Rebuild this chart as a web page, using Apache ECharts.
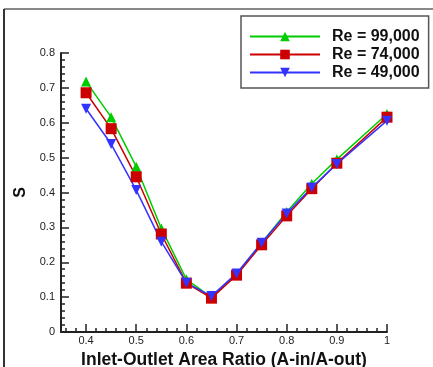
<!DOCTYPE html>
<html>
<head>
<meta charset="utf-8">
<script src="https://cdn.jsdelivr.net/npm/echarts@6/dist/echarts.min.js"></script>
<style>
  html, body { margin: 0; padding: 0; background: #fff; }
  #chart { width: 433px; height: 367px; }
</style>
</head>
<body>
<div id="chart"></div>
<script>
// area ratio (no point at 0.95)
const ratio = [0.4, 0.45, 0.5, 0.55, 0.6, 0.65, 0.7, 0.75, 0.8, 0.85, 0.9, 1.0];
// S values per Reynolds number
const re99 = [0.718, 0.616, 0.474, 0.297, 0.151, 0.099, 0.165, 0.255, 0.344, 0.425, 0.495, 0.625];
const re74 = [0.686, 0.583, 0.445, 0.281, 0.140, 0.097, 0.163, 0.250, 0.333, 0.411, 0.484, 0.616];
const re49 = [0.640, 0.539, 0.407, 0.259, 0.141, 0.103, 0.168, 0.256, 0.340, 0.414, 0.482, 0.606];
const names = ['Re = 99,000', 'Re = 74,000', 'Re = 49,000'];

function pairs(ys) {
  return ratio.map(function (x, i) { return [x, ys[i]]; });
}

var font = 'Arial, "Liberation Sans", sans-serif';
var axisCol = '#222';

var myChart = echarts.init(document.getElementById('chart'), null, {renderer: 'canvas'});

function mkSeries(name, data, color, symbol, size) {
  return {
    name: name,
    type: 'line',
    data: pairs(data),
    symbol: symbol,
    symbolSize: size,
    showSymbol: true,
    lineStyle: {color: color, width: 1.5},
    itemStyle: {color: color},
    emphasis: {disabled: true},
    animation: false
  };
}

var option = {
  backgroundColor: '#fff',
  animation: false,
  grid: {left: 61, right: 46, top: 53, bottom: 35, containLabel: false, outerBoundsMode: 'none'},
  xAxis: {
    type: 'value',
    min: 0.35,
    max: 1.0,
    splitNumber: 5,
    name: 'Inlet-Outlet Area Ratio (A-in/A-out)',
    nameLocation: 'middle',
    nameGap: 19,
    nameTextStyle: {fontFamily: font, fontSize: 17.5, fontWeight: 'bold', color: '#111'},
    axisLine: {show: true, onZero: false, lineStyle: {color: axisCol, width: 2}},
    axisTick: {show: true, inside: true, length: 8, lineStyle: {color: axisCol, width: 1.5}},
    minorTick: {show: true, splitNumber: 5, length: 4, lineStyle: {color: axisCol, width: 1.5}},
    splitLine: {show: false},
    axisLabel: {
      fontFamily: font, fontSize: 11, color: '#222', margin: 3,
      formatter: function (v) {
        if (Math.abs(v - 0.35) < 1e-6) return '';
        return String(Math.round(v * 100) / 100);
      }
    }
  },
  yAxis: {
    type: 'value',
    min: 0,
    max: 0.8,
    interval: 0.1,
    name: 'S',
    nameLocation: 'middle',
    nameGap: 31,
    nameRotate: 90,
    nameTextStyle: {fontFamily: font, fontSize: 16, fontWeight: 'bold', color: '#111'},
    axisLine: {show: true, lineStyle: {color: axisCol, width: 2}},
    axisTick: {show: true, inside: true, length: 8, lineStyle: {color: axisCol, width: 1.5}},
    minorTick: {show: true, splitNumber: 5, length: 4, lineStyle: {color: axisCol, width: 1.5}},
    splitLine: {show: false},
    axisLabel: {
      fontFamily: font, fontSize: 11, color: '#222', margin: 6,
      formatter: function (v) { return String(Math.round(v * 10) / 10); }
    }
  },
  legend: {
    left: 241,
    top: 16,
    width: 180,
    orient: 'vertical',
    padding: [12, 9, 7, 8],
    itemGap: 1,
    itemWidth: 70,
    itemHeight: 12,
    backgroundColor: '#fff',
    borderColor: '#555',
    borderWidth: 1.5,
    textStyle: {fontFamily: font, fontSize: 16, fontWeight: 'bold', color: '#111', lineHeight: 17, padding: [0, 0, 0, 7]},
    data: names
  },
  graphic: [
    {type: 'line', shape: {x1: 4, y1: 9, x2: 433, y2: 9}, style: {stroke: '#888', lineWidth: 2}},
    {type: 'line', shape: {x1: 4, y1: 9, x2: 4, y2: 367}, style: {stroke: '#333', lineWidth: 2}}
  ],
  series: [
    mkSeries(names[0], re99, '#00cc00', 'triangle', 10),
    mkSeries(names[1], re74, '#cc0000', 'rect', 11),
    mkSeries(names[2], re49, '#3333ff', 'path://M0,0 L10,0 L5,9 Z', 10)
  ]
};

myChart.setOption(option);
</script>
</body>
</html>
